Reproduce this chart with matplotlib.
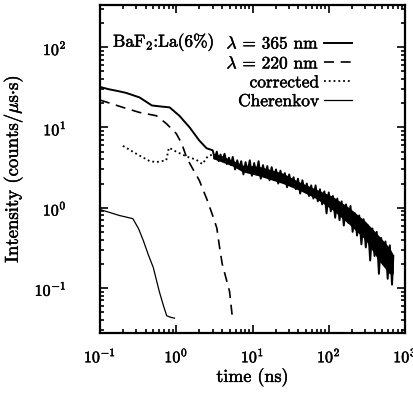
import matplotlib
matplotlib.use("Agg")
import matplotlib.pyplot as plt
import matplotlib.patheffects as pe
from matplotlib.ticker import LogLocator, NullFormatter, FixedLocator

plt.rcParams['font.family'] = ['cmr10', 'DejaVu Serif']
plt.rcParams['mathtext.fontset'] = 'cm'
plt.rcParams['axes.formatter.use_mathtext'] = True

# lambda = 365 nm: smooth head, then noisy long tail
t365 = [0.1, 0.13, 0.17, 0.22, 0.33, 0.48, 0.65, 0.82, 1.1, 1.5, 2.0, 2.5,
        3.0, 3.2, 3.4, 3.6, 3.8, 4.0, 4.3, 4.6, 4.9, 5.2, 5.5, 5.9, 6.3, 6.7,
        7.1, 7.6, 8.1, 8.6, 9.2, 9.8, 10.5, 11.2, 12.0, 12.8, 13.7, 14.6,
        15.6, 16.7, 17.8, 19.0, 20.3, 21.7, 23.2, 24.8, 26.5, 28.3, 30.2,
        32.3, 34.5, 36.9, 39.4, 42.1, 45.0, 48.1, 51.4, 54.9, 58.7, 62.7,
        67.0, 71.6, 76.5, 81.7, 87.3, 93.3, 99.7, 106, 113, 121, 129, 138,
        147, 157, 168, 180, 192, 205, 219, 234, 250, 267, 285, 305, 326, 348,
        372, 397, 424, 453, 484, 517, 552, 590, 630, 673, 700]
i365 = [32, 30, 28.5, 27, 23.7, 18.8, 18.2, 17.8, 14, 10, 6.9, 5.5,
        5.2, 4.1, 5.0, 3.8, 4.6, 3.9, 4.7, 3.5, 4.2, 3.4, 4.3, 3.0, 3.9, 3.1,
        3.8, 2.6, 3.7, 2.8, 3.9, 2.5, 3.6, 2.6, 3.8, 2.3, 3.4, 2.5,
        3.3, 2.2, 3.2, 2.4, 3.0, 2.0, 2.9, 2.1, 2.7, 1.8, 2.6,
        1.9, 2.4, 1.7, 2.3, 1.5, 2.2, 1.6, 2.0, 1.4, 1.9, 1.3,
        1.9, 1.2, 1.7, 1.1, 1.6, 0.85, 1.55, 0.9, 1.4, 0.75, 1.3, 0.7,
        1.2, 0.6, 1.1, 0.65, 1.05, 0.5, 0.85, 0.45, 0.8, 0.35, 0.72, 0.32, 0.6, 0.22,
        0.55, 0.25, 0.5, 0.15, 0.42, 0.2, 0.38, 0.13, 0.34, 0.11, 0.25]

# envelope of the noisy part of the 365 nm tail
tenv = [3.0, 4.0, 5.5, 7.4, 12, 25, 41, 68, 110, 185, 300, 450, 620, 700]
env_hi = [4.8, 4.4, 3.9, 3.4, 3.3, 2.7, 2.1, 1.7, 1.4, 1.0, 0.68, 0.45, 0.32, 0.26]
env_lo = [4.1, 3.7, 3.3, 2.8, 2.5, 2.0, 1.65, 1.3, 0.95, 0.62, 0.4, 0.22, 0.15, 0.15]

# lambda = 220 nm (dashed)
t220 = [0.1, 0.2, 0.33, 0.55, 0.74, 1.0, 1.18, 1.37, 1.6, 2.0, 2.5, 3.0, 3.4,
        3.7, 4.0, 5.0, 5.5]
i220 = [22, 17.8, 15.4, 14, 11.2, 8.4, 6.3, 4.2, 3.2, 2.2, 1.3, 0.8, 0.56,
        0.32, 0.2, 0.09, 0.039]

# corrected (dotted)
tcor = [0.2, 0.3, 0.45, 0.55, 0.74, 0.8, 1.0, 1.2, 1.5, 1.8, 2.2, 2.6, 3.0]
icor = [5.9, 4.7, 3.8, 3.7, 3.9, 5.6, 5.0, 4.6, 4.2, 4.0, 3.5, 4.4, 4.6]

# Cherenkov (thin solid)
tche = [0.1, 0.13, 0.18, 0.24, 0.27, 0.32, 0.37, 0.43, 0.5, 0.6, 0.68, 0.75,
        0.85, 0.95]
iche = [0.95, 0.88, 0.8, 0.75, 0.73, 0.55, 0.39, 0.26, 0.18, 0.09, 0.06,
        0.045, 0.043, 0.042]

fig = plt.figure(figsize=(4.13, 3.94), dpi=100)
ax = fig.add_axes([0.242, 0.155, 0.739, 0.832])

ax.fill_between(tenv, env_lo, env_hi, color='black', lw=0)
ax.plot(t365, i365, color='black', lw=1.4, label=r'$\lambda$ = 365 nm')
ax.plot(t220, i220, color='black', lw=1.2, dashes=(6, 4), label=r'$\lambda$ = 220 nm')
ax.plot(tcor, icor, color='black', lw=1.3, ls=':', label='corrected')
ax.plot(tche, iche, color='black', lw=0.9, label='Cherenkov')

ax.set_xscale('log')
ax.set_yscale('log')
ax.set_xlim(0.1, 1000)
ax.set_ylim(0.0275, 335)

ax.xaxis.set_major_locator(FixedLocator([0.1, 1, 10, 100, 1000]))
ax.set_xticklabels([r'$\mathit{10^{-1}}$', r'$\mathit{10^{0}}$', r'$\mathit{10^{1}}$',
                    r'$\mathit{10^{2}}$', r'$\mathit{10^{3}}$'])
ax.xaxis.set_minor_locator(LogLocator(base=10, subs=range(2, 10), numticks=20))
ax.yaxis.set_minor_locator(LogLocator(base=10, subs=range(2, 10), numticks=20))
ax.xaxis.set_minor_formatter(NullFormatter())
ax.yaxis.set_minor_formatter(NullFormatter())

ax.tick_params(which='both', direction='in', top=True, right=True, width=1.2)
ax.tick_params(which='major', length=6)
ax.tick_params(which='minor', length=3)
ax.tick_params(axis='y', which='major', pad=24, labelsize=11.5)
ax.tick_params(axis='x', which='major', pad=10, labelsize=11.5)
for s in ax.spines.values():
    s.set_linewidth(1.6)

bold = [pe.withStroke(linewidth=0.35, foreground='black')]

ax.set_xlabel('time (ns)', fontsize=13, labelpad=2, path_effects=bold)
ax.set_ylabel(r'Intensity (counts/$\mu$s$\cdot$s)', fontsize=13.5, labelpad=7,
              path_effects=bold)
for lab in ax.get_xticklabels() + ax.get_yticklabels():
    lab.set_path_effects(bold)

ax.text(0.043, 0.887, r'BaF$_2$:La(6%)', transform=ax.transAxes,
        fontsize=12.5, va='center', ha='left', path_effects=bold)
leg = ax.legend(loc='upper right', bbox_to_anchor=(0.855, 0.935), frameon=False,
                markerfirst=False, handlelength=1.6, handletextpad=0.3,
                labelspacing=0.2, borderpad=0, fontsize=12.5)
for txt in leg.get_texts():
    txt.set_path_effects(bold)

fig.savefig('out.png', dpi=100)
